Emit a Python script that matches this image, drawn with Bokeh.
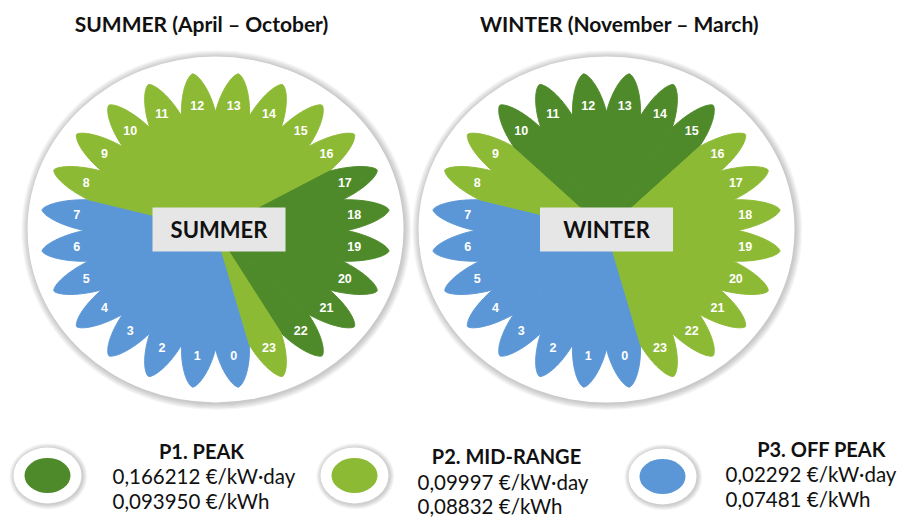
import numpy as np
from bokeh.plotting import figure
from bokeh.models import Range1d
from bokeh.core.properties import value
from bokeh.embed import file_html
from bokeh.resources import INLINE

# ---------------- data ----------------
hours = list(range(24))
# 1 = P1 peak, 2 = P2 mid-range, 3 = P3 off peak
summer_period = [3, 3, 3, 3, 3, 3, 3, 3, 2, 2, 2, 2, 2, 2, 2, 2, 2, 1, 1, 1, 1, 1, 1, 2]
winter_period = [3, 3, 3, 3, 3, 3, 3, 3, 2, 2, 1, 1, 1, 1, 1, 1, 2, 2, 2, 2, 2, 2, 2, 2]
season_titles = ["SUMMER (April \u2013 October)", "WINTER (November \u2013 March)"]
season_names = ["SUMMER", "WINTER"]
period_names = ["P1. PEAK", "P2. MID-RANGE", "P3. OFF PEAK"]
power_prices = ["0,166212 \u20ac/kW\u00b7day", "0,09997 \u20ac/kW\u00b7day", "0,02292 \u20ac/kW\u00b7day"]
energy_prices = ["0,093950 \u20ac/kWh", "0,08832 \u20ac/kWh", "0,07481 \u20ac/kWh"]
period_colors = {1: "#4e8a2a", 2: "#8dba34", 3: "#5b97d6"}

# ---------------- layout ----------------
W, H = 909, 517


def Y(sy):
    return H - sy


p = figure(width=W, height=H, output_backend="svg", toolbar_location=None,
           x_range=Range1d(0, W), y_range=Range1d(0, H),
           x_axis_location=None, y_axis_location=None, min_border=0,
           outline_line_color=None, background_fill_color="white",
           border_fill_color="white")
p.grid.visible = False

FONT = value("Lato")


def shadow_disc(cx, cy, rx, ry, spread, alpha=0.03):
    for k in range(spread, 0, -1):
        p.ellipse(x=[cx + 0.8], y=[Y(cy) - 0.8], width=[2 * (rx + k)], height=[2 * (ry + k)],
                  fill_color="black", fill_alpha=alpha, line_color=None)
    p.ellipse(x=[cx], y=[Y(cy)], width=[2 * rx], height=[2 * ry],
              fill_color="white", line_color=None)


RV = 0.75   # notch radius (fraction of tip radius)
LR = 0.80   # label radius


def flower(cx, cy_s, rx, ry, periods):
    cy = Y(cy_s)
    xs, ys, cols = [], [], []
    lx, ly, lt = [], [], []
    for h, per in zip(hours, periods):
        th = -82.5 - 15.0 * h
        phi = np.linspace(th - 7.5, th + 7.5, 61)
        u = (phi - th) / 7.5
        r = RV + (1 - RV) * np.clip(1 - np.abs(u) ** 1.5, 0, None) ** 0.95
        rad = np.radians(phi)
        xs.append([cx] + list(cx + rx * r * np.cos(rad)))
        ys.append([cy] + list(cy + ry * r * np.sin(rad)))
        cols.append(period_colors[per])
        lx.append(cx + rx * LR * np.cos(np.radians(th)))
        ly.append(cy + ry * LR * np.sin(np.radians(th)))
        lt.append(str(h))
    p.patches(xs, ys, fill_color=cols, line_color=cols, line_width=1)
    p.text(x=lx, y=ly, text=lt, text_color="white", text_font=value("Liberation Sans"),
           text_font_style="bold", text_font_size="12.5px", text_align="center",
           text_baseline="middle")


# seasons
centers = [(215, 230), (606, 230)]
box_centers = [(218.5, 229), (606, 229)]
title_pos = [(201, 23), (619, 23)]
seasons = [summer_period, winter_period]
for (cx, cy), (bx, by), (tx, ty), per, ttl, nm in zip(centers, box_centers, title_pos,
                                                      seasons, season_titles, season_names):
    shadow_disc(cx, cy - 1, 188, 173, 7)
    flower(cx, cy, 175, 158, per)
    p.rect(x=[bx], y=[Y(by)], width=[133], height=[44], fill_color="#e6e6e6", line_color=None)
    p.text(x=[bx], y=[Y(by)], text=[nm], text_font=FONT, text_font_style="bold",
           text_font_size="22px", text_color="#111111", text_align="center",
           text_baseline="middle")
    p.text(x=[tx], y=[Y(ty)], text=[ttl], text_font=FONT, text_font_style="bold",
           text_font_size="21px", text_color="#111111", text_align="center",
           text_baseline="middle")

# legend
leg_disc = [(47, 475), (354, 475), (662, 476)]
leg_title = [(201, 450), (506, 455), (821, 448)]
leg_lines_x = [112, 417, 725]
leg_lines_y = [(475, 500), (481, 505), (473, 498)]
for i in range(3):
    dx, dy = leg_disc[i]
    shadow_disc(dx, dy, 34, 28, 5, 0.04)
    p.ellipse(x=[dx], y=[Y(dy)], width=[46], height=[35],
              fill_color=period_colors[i + 1], line_color=None)
    tx, ty = leg_title[i]
    p.text(x=[tx], y=[Y(ty)], text=[period_names[i]], text_font=FONT,
           text_font_style="bold", text_font_size="20px", text_color="#111111",
           text_align="center", text_baseline="middle")
    y1, y2 = leg_lines_y[i]
    p.text(x=[leg_lines_x[i], leg_lines_x[i]], y=[Y(y1), Y(y2)],
           text=[power_prices[i], energy_prices[i]], text_font=FONT,
           text_font_size="20.5px", text_color="#111111", text_align="left",
           text_baseline="middle")

open("out.html", "w").write(file_html(p, INLINE))
